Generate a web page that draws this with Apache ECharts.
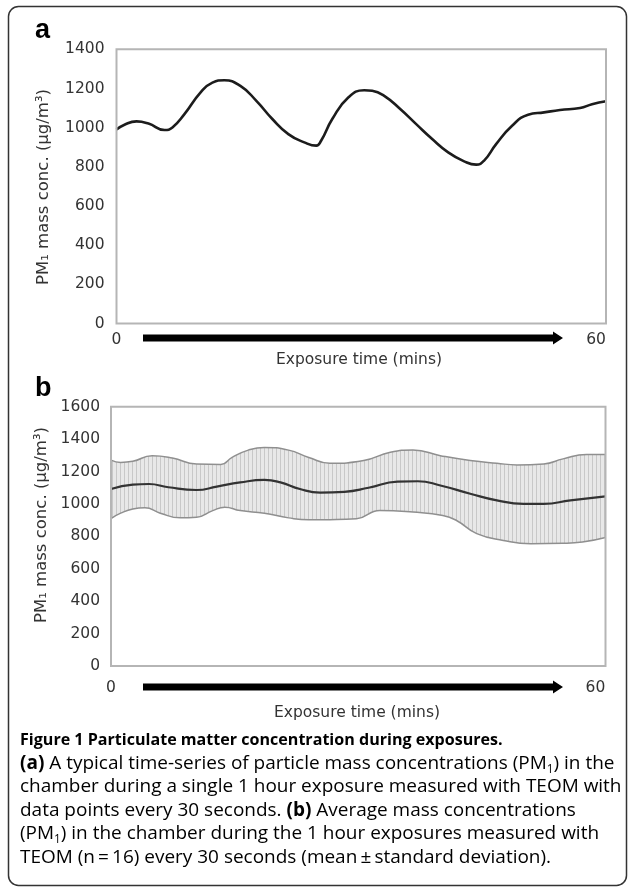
<!DOCTYPE html>
<html>
<head>
<meta charset="utf-8">
<script src="https://cdn.jsdelivr.net/npm/echarts@6/dist/echarts.min.js"></script>
<style>
html,body{margin:0;padding:0;background:#fff;}
#c{width:630px;height:891px;}
</style>
</head>
<body>
<div id="c"></div>
<script>
// ---------- data ----------
// Panel a: single exposure time-series (minutes, µg/m3)
const timeA   = [0, 1, 2.5, 4, 6, 7, 8.5, 10.5, 12, 13.5, 15.5, 17.5, 19.5, 21.5, 23.5, 25, 25.6, 27, 29, 31, 32, 33.5, 35.5, 37.5, 39.5, 41.5, 43.5, 45, 46, 47.5, 49.5, 51.5, 53.5, 55.5, 58, 59.5, 61.25];
const valuesA = [990, 1015, 1032, 1021, 988, 1001, 1069, 1179, 1230, 1242, 1213, 1137, 1044, 967, 925, 908, 933, 1044, 1154, 1191, 1188, 1162, 1095, 1018, 942, 874, 828, 811, 832, 916, 1010, 1066, 1078, 1090, 1100, 1120, 1135];

// Panel b: mean and mean ± SD
const timeBMean = [0, 2.7, 4.7, 7.1, 10.6, 13.1, 16, 19, 21, 23.4, 25.9, 28.9, 31.9, 35.5, 38, 40.8, 44.5, 47.8, 51.1, 53.6, 56.9, 61.25];
const meanB     = [1092, 1119, 1123, 1103, 1086, 1107, 1133, 1148, 1133, 1092, 1070, 1075, 1100, 1138, 1140, 1114, 1063, 1022, 1001, 1001, 1022, 1047];

const timeBUpper = [0, 1.2, 2.7, 5.1, 7.6, 10.6, 13.6, 15.0, 17.0, 19.0, 22.0, 24.5, 27.1, 31.3, 34.6, 37.4, 40.8, 44.5, 47.8, 50.3, 53.6, 56.0, 58.9, 61.25];
const upperB     = [1270, 1256, 1263, 1297, 1283, 1246, 1244, 1287, 1332, 1349, 1332, 1287, 1251, 1268, 1319, 1333, 1298, 1268, 1251, 1241, 1247, 1278, 1305, 1305];

const timeBLower = [0, 1.2, 2.7, 4.2, 6.1, 8.6, 10.6, 12.6, 14.1, 16.0, 19.0, 22.0, 24.5, 27.1, 30.4, 33.3, 37.4, 41.1, 42.8, 45.3, 48.6, 52.0, 56.0, 58.4, 61.25];
const lowerB     = [910, 943, 969, 976, 943, 914, 918, 959, 980, 959, 943, 914, 902, 903, 909, 960, 950, 929, 898, 817, 775, 755, 757, 765, 793];

// axes
const xTicks = [0, 60];
const xMax = 61.25;
const yMaxA = 1400, yMaxB = 1600, yStep = 200;

// ---------- build ----------
const pairs = (xs, ys) => xs.map((x, i) => [x, ys[i]]);

const pc = document.createElement('canvas');
pc.width = 4; pc.height = 4;
const pctx = pc.getContext('2d');
pctx.fillStyle = '#e8e8e8'; pctx.fillRect(0, 0, 4, 4);
pctx.fillStyle = '#c8c8c8'; pctx.fillRect(0, 0, 1, 4);

const axisFont = '"DejaVu Sans", sans-serif';
const capFont = '"Open Sans", sans-serif';
const tickColor = '#333333';

function measure(text, font) {
  const c = document.createElement('canvas').getContext('2d');
  c.font = font; return c.measureText(text).width;
}
// size caption text to the reference line widths
const regSize = 18 * 602 / measure('chamber during a single 1 hour exposure measured with TEOM with', '18px ' + capFont);
const boldSize = 18 * 483 / measure('Figure 1 Particulate matter concentration during exposures.', 'bold 18px ' + capFont);

function yAxis(gi, max, margin) {
  return {
    type: 'value', gridIndex: gi, min: 0, max: max, interval: yStep,
    axisLine: {show: false}, axisTick: {show: false}, splitLine: {show: false},
    axisLabel: {color: tickColor, fontFamily: axisFont, fontSize: 15.5, margin: margin, formatter: v => String(v)}
  };
}
function xAxis(gi, margin) {
  return {
    type: 'value', gridIndex: gi, min: 0, max: xMax,
    axisLine: {show: false}, axisTick: {show: false}, splitLine: {show: false},
    axisLabel: {customValues: xTicks, color: tickColor, fontFamily: axisFont, fontSize: 15.5, margin: margin, formatter: v => String(v)}
  };
}

const chart = echarts.init(document.getElementById('c'), null, {renderer: 'canvas'});

const rich = {
  r: {fontFamily: capFont, fontSize: regSize, color: '#231f20', lineHeight: 24},
  b: {fontFamily: capFont, fontSize: regSize, fontWeight: 'bold', color: '#231f20', lineHeight: 24},
  t: {fontFamily: capFont, fontSize: boldSize, fontWeight: 'bold', color: '#231f20', lineHeight: 24},
  s: {fontFamily: capFont, fontSize: regSize * 0.62, color: '#231f20', lineHeight: 13, verticalAlign: 'bottom'}
};
const capLines = [
  '{t|Figure 1 Particulate matter concentration during exposures.}',
  '{b|(a)}{r| A typical time-series of particle mass concentrations (PM}{s|1}{r|) in the}',
  '{r|chamber during a single 1 hour exposure measured with TEOM with}',
  '{r|data points every 30 seconds. }{b|(b)}{r| Average mass concentrations}',
  '{r|(PM}{s|1}{r|) in the chamber during the 1 hour exposures measured with}',
  '{r|TEOM (n\u2009=\u200916) every 30 seconds (mean\u2009\u00b1\u2009standard deviation).}'
];
const capY = [740, 763.5, 787, 810.5, 834, 857.5];

function arrow(y) {
  const x0 = 143, x1 = 553, tip = 563, hw = 3.5, hh = 6.5;
  return {
    type: 'polygon', silent: true,
    shape: {points: [[x0, y - hw], [x1, y - hw], [x1, y - hh], [tip, y], [x1, y + hh], [x1, y + hw], [x0, y + hw]]},
    style: {fill: '#000'}
  };
}
const yTitle = 'PM\u2081 mass conc. (\u00b5g/m\u00b3)';

const graphics = [
  {type: 'rect', silent: true, shape: {x: 8.5, y: 6.5, width: 618, height: 879, r: 10},
   style: {fill: 'none', stroke: '#333', lineWidth: 1.5}},
  {type: 'text', x: 35, y: 31, style: {text: 'a', font: 'bold 27px "Liberation Sans", Arial, sans-serif', fill: '#000', verticalAlign: 'middle'}},
  {type: 'text', x: 35, y: 389, style: {text: 'b', font: 'bold 27px "Liberation Sans", Arial, sans-serif', fill: '#000', verticalAlign: 'middle'}},
  {type: 'text', x: 44, y: 187, rotation: Math.PI / 2,
   style: {text: yTitle, font: '16.5px ' + axisFont, fill: tickColor, align: 'center', verticalAlign: 'middle'}},
  {type: 'text', x: 42, y: 525, rotation: Math.PI / 2,
   style: {text: yTitle, font: '16.5px ' + axisFont, fill: tickColor, align: 'center', verticalAlign: 'middle'}},
  {type: 'text', x: 359, y: 360, style: {text: 'Exposure time (mins)', font: '15.5px ' + axisFont, fill: tickColor, align: 'center', verticalAlign: 'middle'}},
  {type: 'text', x: 357, y: 713, style: {text: 'Exposure time (mins)', font: '15.5px ' + axisFont, fill: tickColor, align: 'center', verticalAlign: 'middle'}},
  arrow(338),
  arrow(687)
];
capLines.forEach((t, i) => {
  graphics.push({type: 'text', x: 20, y: capY[i], style: {text: t, rich: rich, align: 'left', verticalAlign: 'middle'}});
});

chart.setOption({
  animation: false,
  backgroundColor: '#fff',
  grid: [
    {left: 116.5, top: 49.3, width: 489.5, height: 274.2, show: true, borderColor: '#b5b5b5', borderWidth: 2, backgroundColor: 'transparent', z: 10},
    {left: 111, top: 406.7, width: 494.5, height: 259.3, show: true, borderColor: '#b5b5b5', borderWidth: 2, backgroundColor: 'transparent', z: 10}
  ],
  xAxis: [xAxis(0, 8), xAxis(1, 14)],
  yAxis: [yAxis(0, yMaxA, 12), yAxis(1, yMaxB, 11)],
  graphic: graphics,
  series: [
    {type: 'line', xAxisIndex: 0, yAxisIndex: 0, data: pairs(timeA, valuesA), showSymbol: false,
     smooth: 0.5, lineStyle: {color: '#1c1c1c', width: 2.6}, z: 3},
    {type: 'line', xAxisIndex: 1, yAxisIndex: 1, data: pairs(timeBUpper, upperB), showSymbol: false,
     smooth: 0.5, lineStyle: {color: '#8f8f8f', width: 1.5},
     areaStyle: {color: {image: pc, repeat: 'repeat'}, opacity: 1}, z: 2},
    {type: 'line', xAxisIndex: 1, yAxisIndex: 1, data: pairs(timeBLower, lowerB), showSymbol: false,
     smooth: 0.5, lineStyle: {color: '#8f8f8f', width: 1.5},
     areaStyle: {color: '#ffffff', opacity: 1}, z: 3},
    {type: 'line', xAxisIndex: 1, yAxisIndex: 1, data: pairs(timeBMean, meanB), showSymbol: false,
     smooth: 0.5, lineStyle: {color: '#333333', width: 2.2}, z: 4}
  ]
});
</script>
</body>
</html>
